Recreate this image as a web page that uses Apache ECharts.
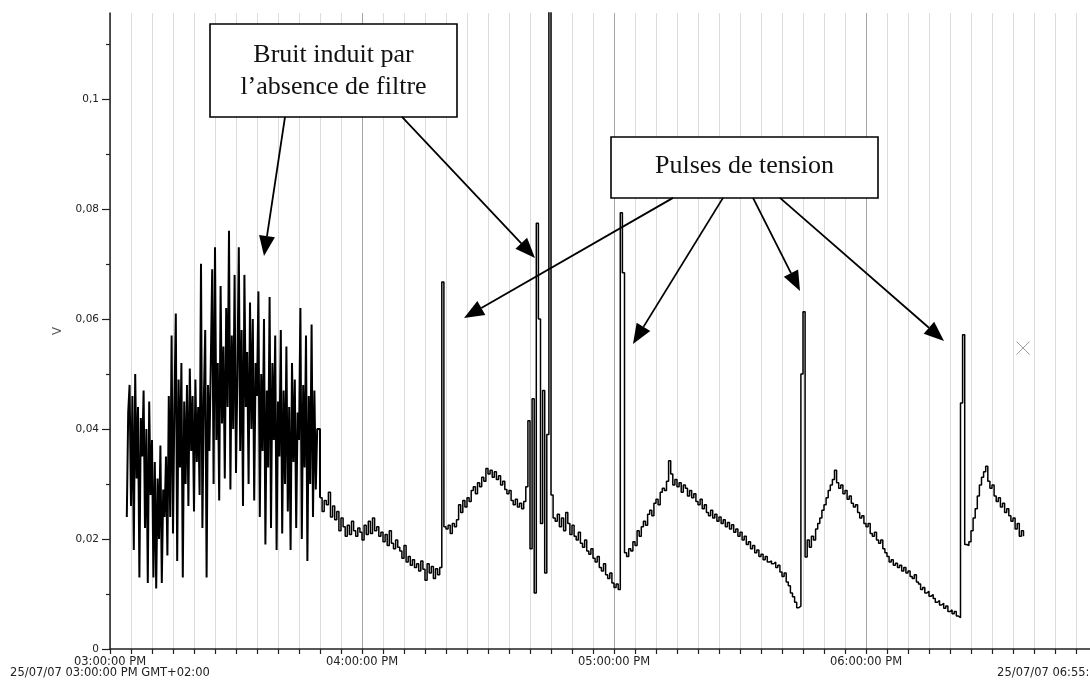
<!DOCTYPE html>
<html><head><meta charset="utf-8">
<script src="https://cdn.jsdelivr.net/npm/echarts@6/dist/echarts.min.js"></script>
<style>html,body{margin:0;padding:0;background:#fff;}#c{width:1090px;height:684px;}</style>
</head><body><div id="c"></div>
<script>
// ---- axis texts / ticks ----
const startStamp = '25/07/07 03:00:00 PM GMT+02:00';
const endStamp = '25/07/07 06:55:00 PM GMT+02:00';
const hourLabels = ['03:00:00 PM', '04:00:00 PM', '05:00:00 PM', '06:00:00 PM'];
const axisEndMinute = 235;           // minutes after 03:00 PM (06:55 PM)
const yMajorTicks = [0, 0.02, 0.04, 0.06, 0.08, 0.1];
const yMinorTicks = [0.01, 0.03, 0.05, 0.07, 0.09, 0.11];
const yMax = 0.1156;
const yName = 'V';

// ---- samples: noisy start (every 20 s from 03:04:00) ----
const noiseStartMinute = 4;
const noiseStepMinutes = 1 / 3;
const noiseVolts = [
  .024,.043,.048,.026,.046,.018,.050,.031,.044,.013,.042,.035,
  .047,.022,.040,.012,.045,.028,.038,.013,.034,.011,.031,.020,.037,.012,.029,.024,.035,
  .017,.046,.024,.057,.021,.044,.061,.016,.049,.033,.052,.013,.045,.030,.048,
  .026,.051,.036,.046,.025,.049,.034,.044,.028,
  .070,.022,.045,.058,.013,.048,.036,.052,.069,
  .030,.073,.038,.052,.027,.066,.041,.055,.031,.062,.044,.076,.029,.057,.040,
  .068,.032,.050,.073,.036,.058,.026,.068,.044,.054,.030,.063,.040,.060,.027,.052,.046,
  .065,.024,.050,.036,.060,.019,.047,.033,.064,.022,.052,.038,.057,.018,.045,.035,
  .058,.021,.047,.030,.055,.025,.044,.018,.052,.034,.049,.022,.043,.038,
  .062,.020,.048,.033,.057,.016,.046,.030,.059,.024,.047,.029,.040
];

// ---- samples: filtered part (every 30 s from 03:50:00) ----
const mainStartMinute = 50;
const mainStepMinutes = 0.5;
const mainVolts = [
  .0275,.025,.027,.0262,.0285,.024,.026,.0235,.025,.0215,
  .0238,.0222,.0205,.0225,.0208,.0232,.0215,.0205,.022,.0212,
  .0198,.0225,.0208,.0232,.021,.0238,.0215,.0222,.0205,.0212,
  .0195,.0208,.0188,.0215,.0192,.0182,.0198,.0185,.0178,.0165,
  .0188,.0158,.0168,.0152,.0162,.0148,.0155,.0142,.016,.0145,
  .0125,.0155,.0138,.015,.0128,.0146,.0135,.0148,.0667,.0222,
  .0218,.0225,.021,.0228,.0222,.0235,.0262,.0248,.027,.0258,
  .0275,.0268,.0288,.0295,.0282,.0302,.0295,.0312,.0305,.0328,
  .0318,.0325,.0312,.0322,.0308,.0315,.0298,.0305,.029,.0282,
  .0288,.027,.0262,.0272,.0258,.0265,.0255,.0268,.0295,.0415,
  .0182,.0455,.0102,.0774,.060,.0228,.047,.0138,.039,.13,
  .028,.0238,.0232,.0245,.0222,.0238,.0215,.0248,.0228,.0208,
  .0225,.0205,.0198,.0212,.0192,.0185,.0198,.0178,.0172,.0182,
  .0165,.0158,.0168,.0148,.0142,.0155,.0135,.0128,.0138,.012,
  .0112,.0118,.0108,.0793,.0684,.0175,.0168,.0182,.0178,.0195,
  .0188,.0215,.0205,.0222,.0232,.0225,.0245,.0252,.0242,.0265,
  .0272,.0262,.0285,.0292,.0288,.0305,.0342,.0318,.0298,.0308,
  .0295,.0302,.0285,.0298,.0292,.0278,.0288,.0275,.0282,.0268,
  .0262,.0272,.0255,.0262,.0248,.0242,.0252,.0238,.0245,.0232,
  .024,.0228,.0235,.0222,.023,.0218,.0226,.0212,.0218,.0205,
  .0212,.0198,.0205,.019,.0195,.0182,.0188,.0175,.018,.0168,
  .0172,.0162,.0168,.0158,.016,.0155,.0158,.0148,.0152,.014,
  .0132,.0138,.0122,.0115,.0102,.0095,.0085,.0075,.0078,.050,
  .0613,.0167,.0198,.0185,.0205,.0198,.0218,.0228,.0238,.0252,
  .0262,.0275,.0288,.0298,.0308,.0325,.0302,.0292,.0298,.0282,
  .0288,.0272,.0278,.0265,.0258,.0262,.0248,.0238,.0242,.0228,
  .0222,.0228,.021,.0205,.0212,.0198,.0192,.0198,.0182,.0175,
  .0168,.0158,.0162,.0152,.0156,.0148,.0152,.0142,.0148,.0138,
  .0142,.0132,.0128,.0135,.0122,.0118,.0108,.0112,.0102,.0105,
  .0096,.0099,.0092,.0085,.0088,.008,.0083,.0074,.0078,.0068,
  .0071,.0064,.0068,.006,.0057,.0447,.0571,.019,.0188,.0195,
  .0215,.0238,.0255,.0278,.0298,.0312,.0322,.0332,.0305,.0292,
  .0298,.0278,.0268,.0275,.0258,.0265,.0248,.0255,.0242,.0232,
  .0238,.0218,.0228,.0205,.0215,.0205
];

// cursor mark (minute, volts)
const cursorMark = [217.4, 0.0547];

// annotation texts and arrows (arrow ends in minutes / volts)
const noteNoise = 'Bruit induit par\nl\u2019absence de filtre';
const notePulses = 'Pulses de tension';
const arrowLinks = [
  { from: [41.67, 0.0967], to: [36.67, 0.07145] },
  { from: [69.52, 0.0967], to: [101.19, 0.07109] },
  { from: [134.05, 0.0820], to: [84.29, 0.06018] },
  { from: [145.95, 0.0820], to: [124.52, 0.05545] },
  { from: [153.10, 0.0820], to: [164.29, 0.06509] },
  { from: [159.52, 0.0820], to: [198.57, 0.05600] }
];

// ---- build series data ----
const noiseData = noiseVolts.map((v, i) => [noiseStartMinute + i * noiseStepMinutes, v]);
const mainData = mainVolts.map((v, j) => [mainStartMinute + j * mainStepMinutes, v]);
// join the two traces: the noisy trace continues to the first filtered sample
const noiseTrace = noiseData.concat([mainData[0]]);

const lightGrid = '#dcdcdc', hourGrid = '#a6a6a6';
const gridColors = [hourGrid].concat(new Array(11).fill(lightGrid));
const sans = 'DejaVu Sans';

const chart = echarts.init(document.getElementById('c'), null, { renderer: 'canvas' });
const option = {
  animation: false,
  backgroundColor: '#fff',
  grid: { left: 110, right: -7, top: 13, bottom: 35, containLabel: false, outerBoundsMode: 'none' },
  xAxis: {
    type: 'value', min: 0, max: axisEndMinute, interval: 5,
    axisLine: { show: true, lineStyle: { color: '#222', width: 1.5 } },
    axisTick: { show: true, length: 5, lineStyle: { color: '#222', width: 1.2 } },
    splitLine: { show: true, lineStyle: { color: gridColors, width: 1 } },
    axisLabel: {
      show: true, showMinLabel: true, showMaxLabel: true, margin: 8,
      fontFamily: sans, fontSize: 11.5, color: '#222', lineHeight: 11,
      formatter: v => {
        if (v === 0) return hourLabels[0] + '\n' + startStamp;
        if (v === axisEndMinute) return '\n' + endStamp;
        if (v % 60 === 0) return hourLabels[v / 60];
        return '';
      }
    }
  },
  yAxis: [
    {
      type: 'value', min: 0, max: yMax, position: 'left',
      name: yName, nameLocation: 'middle', nameGap: 46, nameRotate: 90,
      nameTextStyle: { fontFamily: sans, fontSize: 12, color: '#555' },
      axisLine: { show: true, lineStyle: { color: '#222', width: 1.5 } },
      axisTick: { show: true, length: 8, customValues: yMajorTicks, lineStyle: { color: '#222', width: 1.2 } },
      axisLabel: {
        show: true, customValues: yMajorTicks, margin: 11,
        fontFamily: sans, fontSize: 10.5, color: '#222',
        formatter: v => String(v).replace('.', ',')
      },
      splitLine: { show: false }
    },
    {
      type: 'value', min: 0, max: yMax, position: 'left', offset: 0,
      axisLine: { show: false },
      axisTick: { show: true, length: 4, customValues: yMinorTicks, lineStyle: { color: '#222', width: 1.2 } },
      axisLabel: { show: false },
      splitLine: { show: false }
    }
  ],
  series: [
    {
      type: 'line', data: noiseTrace, step: 'end', symbol: 'none', clip: true,
      silent: true, lineStyle: { color: '#000', width: 2 }
    },
    {
      type: 'line', data: mainData, step: 'end', symbol: 'none', clip: true,
      silent: true, lineStyle: { color: '#000', width: 1.5 }
    },
    {
      type: 'scatter', data: [cursorMark], silent: true,
      symbol: 'path://M0,0L10,10M10,0L0,10', symbolSize: 13,
      itemStyle: { color: 'rgba(0,0,0,0)', borderColor: '#808080', borderWidth: 1 }
    }
  ]
};
chart.setOption(option);

// ---- annotations ----
const serif = 'Liberation Serif';
const g = [];
arrowLinks.forEach(a => {
  const p0 = chart.convertToPixel({ xAxisIndex: 0, yAxisIndex: 0 }, a.from);
  const p1 = chart.convertToPixel({ xAxisIndex: 0, yAxisIndex: 0 }, a.to);
  const dx = p1[0] - p0[0], dy = p1[1] - p0[1];
  const len = Math.hypot(dx, dy), ux = dx / len, uy = dy / len;
  const L = 20, W = 8;
  const bx = p1[0] - ux * L, by = p1[1] - uy * L;
  g.push({ type: 'line', z: 100, silent: true,
    shape: { x1: p0[0], y1: p0[1], x2: bx, y2: by },
    style: { stroke: '#000', lineWidth: 1.8 } });
  g.push({ type: 'polygon', z: 100, silent: true,
    shape: { points: [[p1[0], p1[1]], [bx - uy * W, by + ux * W], [bx + uy * W, by - ux * W]] },
    style: { fill: '#000' } });
});
g.push({ type: 'group', x: 210, y: 24, z: 110, silent: true, children: [
  { type: 'rect', shape: { x: 0, y: 0, width: 247, height: 93 }, style: { fill: '#fff', stroke: '#000', lineWidth: 1.6 } },
  { type: 'text', x: 123.5, y: 47, style: { text: noteNoise, font: '26px "' + serif + '"', fill: '#111',
      align: 'center', verticalAlign: 'middle', textAlign: 'center', textVerticalAlign: 'middle', lineHeight: 32 } }
]});
g.push({ type: 'group', x: 611, y: 137, z: 110, silent: true, children: [
  { type: 'rect', shape: { x: 0, y: 0, width: 267, height: 61 }, style: { fill: '#fff', stroke: '#000', lineWidth: 1.6 } },
  { type: 'text', x: 133.5, y: 29, style: { text: notePulses, font: '26px "' + serif + '"', fill: '#111',
      align: 'center', verticalAlign: 'middle', textAlign: 'center', textVerticalAlign: 'middle' } }
]});
chart.setOption({ graphic: g });
</script>
</body></html>
